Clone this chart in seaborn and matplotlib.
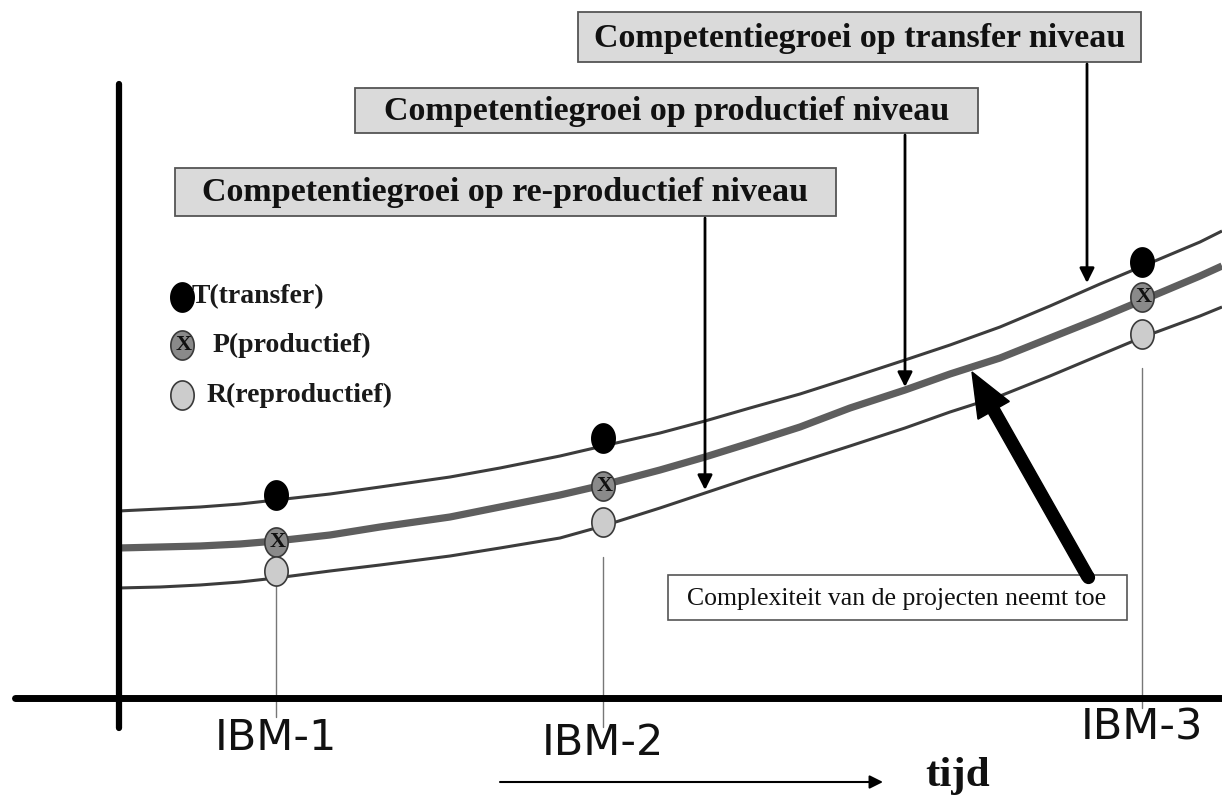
import numpy as np
import pandas as pd
import seaborn as sns
import matplotlib
matplotlib.use("Agg")
import matplotlib.pyplot as plt
import matplotlib.patches as mpatches
from matplotlib.path import Path

# ---------------- data (pixel-like units) ----------------
curve_x = [118, 160, 200, 240, 276, 330, 380, 450, 500, 560, 603, 660, 705, 750, 800,
           850, 905, 950, 1000, 1050, 1100, 1143, 1200, 1222]
transfer_curve = [511, 509, 507, 504, 500, 494, 487, 477, 468, 456, 446, 433, 421, 408, 394,
                  378, 360, 345, 327, 306, 284, 266, 242, 231]
productief_curve = [548, 547, 546, 544, 541, 535, 527, 517, 507, 495, 485, 470, 457, 443, 427,
                    408, 390, 374, 358, 338, 318, 300, 276, 266]
reproductief_curve = [588, 587, 585, 582, 578, 571, 565, 556, 548, 538, 526, 508, 493, 478, 462,
                      446, 428, 412, 396, 376, 355, 337, 316, 307]

milestones = ["IBM-1", "IBM-2", "IBM-3"]
milestone_x = [276, 603, 1142]
T_values = [495, 438, 262]
P_values = [542, 486, 297]
R_values = [571, 522, 334]

legend_labels = ["T(transfer)", "P(productief)", "R(reproductief)"]
legend_y = [297, 345, 395]

box_titles = ["Competentiegroei op transfer niveau",
              "Competentiegroei op productief niveau",
              "Competentiegroei op re-productief niveau"]
complexity_text = "Complexiteit van de projecten neemt toe"
time_label = "tijd"

W, H = 1222, 795

sns.set_theme(style="white")
plt.rcParams["font.family"] = ["DejaVu Sans"]

fig = plt.figure(figsize=(W / 100, H / 100), dpi=100)
ax = fig.add_axes([0, 0, 1, 1])
ax.set_xlim(0, W)
ax.set_ylim(H, 0)
ax.axis("off")

# ---------------- curves ----------------
curves = pd.DataFrame({
    "x": curve_x * 3,
    "y": transfer_curve + productief_curve + reproductief_curve,
    "level": ["T"] * len(curve_x) + ["P"] * len(curve_x) + ["R"] * len(curve_x),
})
line_styles = {"T": ("#3c3c3c", 2.2), "P": ("#5e5e5e", 5.2), "R": ("#3c3c3c", 2.2)}
for lvl, (col, lw) in line_styles.items():
    sns.lineplot(data=curves[curves.level == lvl], x="x", y="y", ax=ax, color=col,
                 linewidth=lw, sort=False, estimator=None, zorder=2,
                 solid_joinstyle="round", solid_capstyle="butt")

# ---------------- axes lines ----------------
ax.plot([119, 119], [84, 728], color="black", lw=4.5, solid_capstyle="round", zorder=3)
ax.plot([15, W], [698, 698], color="black", lw=5, solid_capstyle="round", zorder=3)

# thin drop lines at milestones
drop_top = [585, 557, 368]
drop_bottom = [717, 727, 708]
for xm, yt, yb in zip(milestone_x, drop_top, drop_bottom):
    ax.plot([xm, xm], [yt, yb], color="#777777", lw=1.0, zorder=1)

# ---------------- points (ellipse markers) ----------------
theta = np.linspace(0, 2 * np.pi, 60)
ell = Path(np.column_stack([0.8 * np.cos(theta), np.sin(theta)]), closed=True)

pts = pd.DataFrame({
    "x": milestone_x * 3,
    "y": T_values + P_values + R_values,
    "level": ["T"] * 3 + ["P"] * 3 + ["R"] * 3,
})
styles = {"T": ("black", "black"), "P": ("#8a8a8a", "#3a3a3a"), "R": ("#cccccc", "#3a3a3a")}
for lvl, (fc, ec) in styles.items():
    sub = pts[pts.level == lvl]
    sns.scatterplot(data=sub, x="x", y="y", ax=ax, marker=ell, s=440, color=fc,
                    edgecolor=ec, linewidth=1.2, zorder=4, legend=False)
for xp, yp in zip(milestone_x, P_values):
    ax.text(xp + 2, yp, "X", ha="center", va="center", fontsize=16, fontweight="bold",
            family="Liberation Serif", color="#111111", zorder=5)

# legend markers
leg = pd.DataFrame({"x": [182] * 3, "y": legend_y, "level": ["T", "P", "R"]})
for lvl, (fc, ec) in styles.items():
    sub = leg[leg.level == lvl]
    sns.scatterplot(data=sub, x="x", y="y", ax=ax, marker=ell, s=440, color=fc,
                    edgecolor=ec, linewidth=1.2, zorder=4, legend=False)
ax.text(184, legend_y[1], "X", ha="center", va="center", fontsize=16, fontweight="bold",
        family="Liberation Serif", color="#111111", zorder=5)
legend_text_x = [192, 213, 207]
for tx, ty, lab in zip(legend_text_x, legend_y, legend_labels):
    ax.text(tx, ty, lab, ha="left", va="center", fontsize=20, fontweight="bold",
            family="Liberation Serif", color="#1a1a1a")

# ---------------- milestone labels ----------------
label_baseline = [750, 755, 740]
for xm, ly, lab in zip(milestone_x, label_baseline, milestones):
    ax.text(xm, ly, lab, ha="center", va="baseline", fontsize=31, color="#111111",
            family="DejaVu Sans")

# ---------------- title boxes ----------------
box_x0 = [578, 355, 175]
box_x1 = [1141, 978, 836]
box_y0 = [12, 88, 168]
box_y1 = [62, 133, 216]
for x0, x1, y0, y1, title in zip(box_x0, box_x1, box_y0, box_y1, box_titles):
    ax.add_patch(mpatches.Rectangle((x0, y0), x1 - x0, y1 - y0, facecolor="#dadada",
                                    edgecolor="#555555", lw=1.3, zorder=3))
    ax.text((x0 + x1) / 2, (y0 + y1) / 2 + 1, title, ha="center", va="center", fontsize=24.5,
            fontweight="bold", family="Liberation Serif", color="#111111", zorder=4)

# arrows from boxes down to curves
arrow_x = [1087, 905, 705]
arrow_tip = [283, 387, 490]
for ax_x, y0, tip in zip(arrow_x, box_y1, arrow_tip):
    ax.annotate("", xy=(ax_x, tip), xytext=(ax_x, y0 + 2),
                arrowprops=dict(arrowstyle="-|>", color="black", lw=2.0,
                                mutation_scale=22, shrinkA=0, shrinkB=0), zorder=5)

# ---------------- complexity box + thick arrow ----------------
ax.add_patch(mpatches.Rectangle((668, 575), 459, 45, facecolor="white",
                                edgecolor="#555555", lw=1.2, zorder=3))
ax.text(897, 599, complexity_text, ha="center", va="center", fontsize=18.5,
        family="Liberation Serif", color="#111111", zorder=4)
ax.add_patch(mpatches.FancyArrow(1088, 577, 972 - 1088, 372 - 577, width=12,
                                 head_width=36, head_length=44,
                                 length_includes_head=True, color="black", zorder=5))
ax.plot([1088], [577], marker="o", markersize=8.5, color="black", zorder=5)

# ---------------- time arrow ----------------
ax.annotate("", xy=(883, 782), xytext=(500, 782),
            arrowprops=dict(arrowstyle="-|>", color="black", lw=1.5,
                            mutation_scale=20, shrinkA=0, shrinkB=0))
ax.text(925, 786, time_label, ha="left", va="baseline", fontsize=31, fontweight="bold",
        family="Liberation Serif", color="#111111")

fig.savefig("out.png", dpi=100)
